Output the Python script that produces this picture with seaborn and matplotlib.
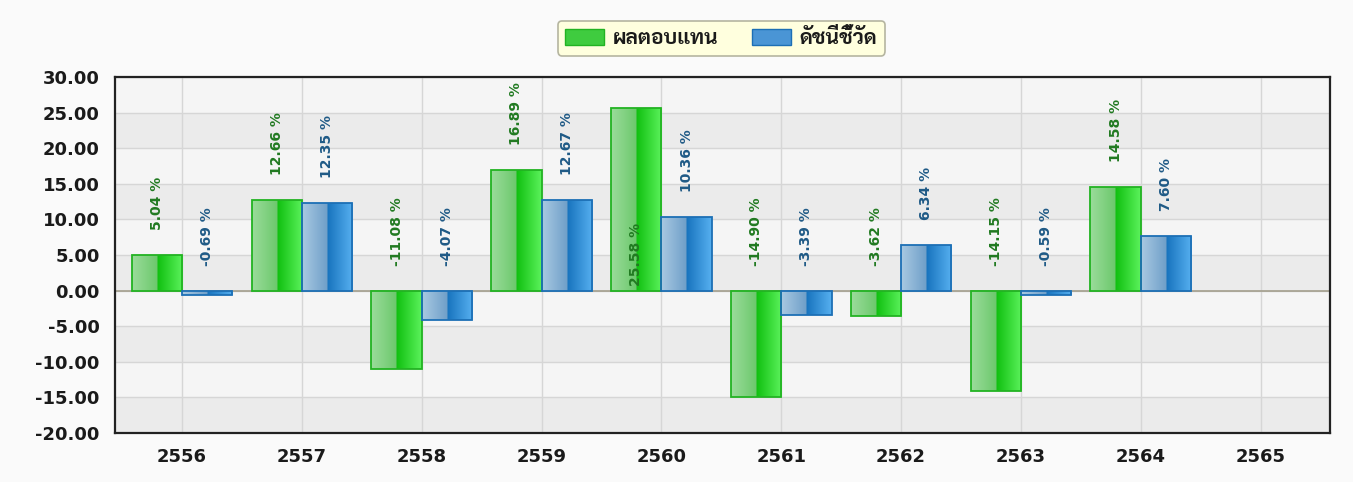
import numpy as np
import pandas as pd
import seaborn as sns
import matplotlib
matplotlib.use("Agg")
import matplotlib.pyplot as plt
from matplotlib.colors import LinearSegmentedColormap
from matplotlib.patches import Patch

# -------------------------
# Data
# -------------------------
years = ["2556", "2557", "2558", "2559", "2560", "2561", "2562", "2563", "2564", "2565"]
series = ["ผลตอบแทน", "ดัชนีชี้วัด"]
returns = [5.04, 12.66, -11.08, 16.89, 25.58, -14.90, -3.62, -14.15, 14.58, np.nan]
benchmark = [-0.69, 12.35, -4.07, 12.67, 10.36, -3.39, 6.34, -0.59, 7.60, np.nan]
y_ticks = [-20, -15, -10, -5, 0, 5, 10, 15, 20, 25, 30]

df = pd.DataFrame({
    "year": years * 2,
    "series": [series[0]] * len(years) + [series[1]] * len(years),
    "value": returns + benchmark,
})

# -------------------------
# Style
# -------------------------
sns.set_style("white")
plt.rcParams["font.family"] = ["DejaVu Sans", "Sarabun", "Noto Sans Thai Looped",
                               "Noto Sans Thai", "Bai Jamjuree"]

edge_cols = ["#22b322", "#1c6fb5"]
label_cols = ["#217a21", "#1f5a86"]
grad = [
    LinearSegmentedColormap.from_list("g", [(0, "#9bdc9b"), (0.5, "#6cc86c"), (0.5, "#0fbf0f"), (1, "#5cf25c")]),
    LinearSegmentedColormap.from_list("b", [(0, "#a9c9e2"), (0.5, "#6f9fc8"), (0.5, "#1773bd"), (1, "#57b0f0")]),
]

fig = plt.figure(figsize=(13.53, 4.82), dpi=100, facecolor="#fafafa")
ax = fig.add_axes([0.085, 0.1017, 0.898, 0.7386])
ax.set_facecolor("#f5f5f5")

# alternating bands
for lo in range(-20, 30, 5):
    if lo % 10 == 0:
        ax.axhspan(lo, lo + 5, color="#ebebeb", zorder=0, lw=0)

sns.barplot(data=df, x="year", y="value", hue="series", hue_order=series,
            palette=["#55cc55", "#4a90d0"], width=0.84, ax=ax, legend=False,
            zorder=3, linewidth=1.3, saturation=1)

ax.set_xlim(-0.56, 9.58)
ax.set_ylim(-20, 30)

# gradient fill + edges
ramp = np.linspace(0, 1, 256).reshape(1, -1)
for i, cont in enumerate(ax.containers):
    for bar in cont:
        h = bar.get_height()
        if np.isnan(h):
            continue
        x0 = bar.get_x()
        w = bar.get_width()
        bar.set_edgecolor(edge_cols[i])
        bar.set_facecolor("none")
        im = ax.imshow(ramp, cmap=grad[i], aspect="auto", zorder=2.9,
                       extent=[x0, x0 + w, min(0, h), max(0, h)], interpolation="bilinear")
        im.set_clip_path(bar)

# value labels
vals = [returns, benchmark]
for i, cont in enumerate(ax.containers):
    for j, bar in enumerate(cont):
        v = vals[i][j]
        if np.isnan(v):
            continue
        xc = bar.get_x() + bar.get_width() / 2
        if v > 20:
            y, off = 0, 3
        else:
            y, off = max(v, 0), 18
        ax.annotate(f"{v:.2f} %", (xc, y), xytext=(0, off), textcoords="offset points",
                    rotation=90, ha="center", va="bottom", fontsize=10,
                    fontweight="bold", color=label_cols[i], zorder=5)

ax.set_yticks(y_ticks)
ax.set_yticklabels([f"{t:.2f}" for t in y_ticks])
ax.grid(True, color="#d6d6d6", lw=1, zorder=1)
ax.set_axisbelow(True)
ax.axhline(0, color="#a39e8c", lw=1.2, zorder=2.5)
ax.set_xlabel("")
ax.set_ylabel("")
ax.tick_params(axis="both", direction="out", length=6, width=1.2, color="#222222",
               labelsize=13, pad=5)
for lab in ax.get_xticklabels() + ax.get_yticklabels():
    lab.set_fontweight("bold")
    lab.set_color("#1a1a1a")
for s in ax.spines.values():
    s.set_color("#222222")
    s.set_linewidth(1.6)
    s.set_visible(True)

handles = [Patch(facecolor="#3fcc3f", edgecolor=edge_cols[0]),
           Patch(facecolor="#4a95d5", edgecolor=edge_cols[1])]
leg = fig.legend(handles, series, loc="upper center", bbox_to_anchor=(0.533, 0.978),
                 ncol=2, fancybox=True, facecolor="#ffffde", edgecolor="#b5b5a0",
                 framealpha=1, prop={"weight": "bold", "size": 15},
                 handlelength=1.9, handleheight=0.8, columnspacing=1.6,
                 handletextpad=0.4, borderpad=0.35)
leg.get_frame().set_linewidth(1.2)
for t in leg.get_texts():
    t.set_color("#1a1a1a")

fig.savefig("out.png", facecolor=fig.get_facecolor())
